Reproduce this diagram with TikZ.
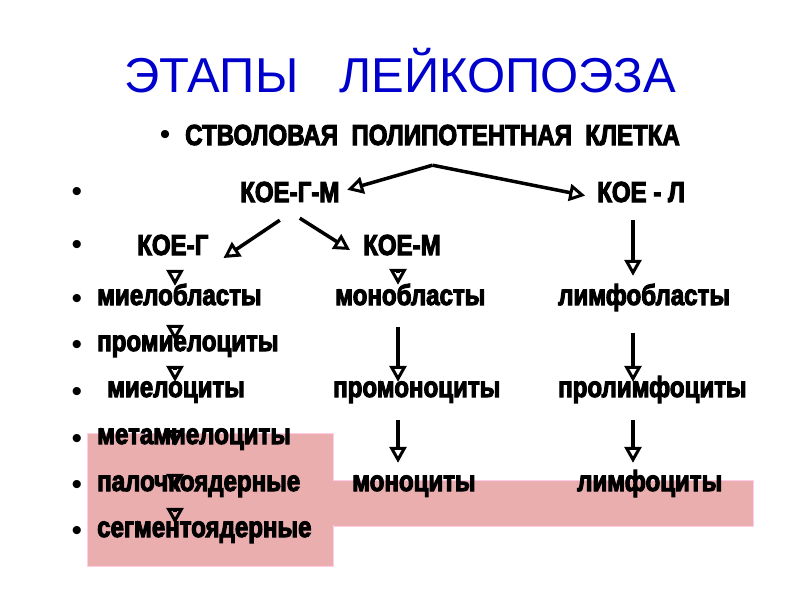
\documentclass[tikz,border=0pt]{standalone}
\usepackage{fontspec}
\setmainfont{Liberation Sans}
\newfontfamily\cellfont[FakeStretch=0.83, BoldFeatures={FakeBold=3.5}]{Liberation Sans}
\usetikzlibrary{arrows.meta, positioning}
\definecolor{titleblue}{RGB}{0,0,204}
\definecolor{boxpink}{RGB}{234,174,174}
\definecolor{boxedge}{RGB}{255,205,230}

\begin{document}
\begin{tikzpicture}[x=1pt, y=-1pt,
        title/.style={font=\fontsize{49}{55}\selectfont, text=titleblue, inner sep=0pt, anchor=base},
        cell/.style={font=\cellfont\bfseries\fontsize{29}{32}\selectfont, inner sep=0pt, anchor=base west, text height=15pt, text depth=0pt},
        kue/.style={cell, text height=20pt},
        dot/.style={font=\fontsize{30}{32}\selectfont, inner sep=0pt},
        arr/.style={line width=3.5pt, -{Triangle[open, length=16pt, width=17pt, line width=3pt]}},
        stage/.style={fill=boxpink, draw=boxedge, line width=0.8pt}
    ]
    \useasboundingbox (0,0) rectangle (800,600);

    % Background boxes
    \fill[stage] (87,433) rectangle (333,566);
    \fill[stage] (333,480) rectangle (753,526);
    \fill[boxpink] (330,481) rectangle (336,525);

    % Title
    \node[title] (title) at (400,92) {ЭТАПЫ~~~ЛЕЙКОПОЭЗА};

    % Nodes
    \node[kue] (stem) at (185,145) {СТВОЛОВАЯ~~ПОЛИПОТЕНТНАЯ~~КЛЕТКА};
    \node[kue] (koegm) at (240,202) {КОЕ-Г-М};
    \node[kue] (koel) at (597,202) {КОЕ - Л};
    \node[kue] (koeg) at (137,255) {КОЕ-Г};
    \node[kue] (koem) at (363,255) {КОЕ-М};

    \node[cell] (myeloblasts) at (97,305) {миелобласты};
    \node[cell] (promyelocytes) at (97,351) {промиелоциты};
    \node[cell] (myelocytes) at (107,397) {миелоциты};
    \node[cell] (metamyelocytes) at (97,444) {метамиелоциты};
    \node[cell] (bandcells) at (97,491) {палочкоядерные};
    \node[cell] (segmented) at (97,537) {сегментоядерные};

    \node[cell] (monoblasts) at (335,305) {монобласты};
    \node[cell] (promonocytes) at (333,397) {промоноциты};
    \node[cell] (monocytes) at (352,491) {моноциты};

    \node[cell] (lymphoblasts) at (558,305) {лимфобласты};
    \node[cell] (prolymphocytes) at (558,397) {пролимфоциты};
    \node[cell] (lymphocytes) at (577,491) {лимфоциты};

    % Bullets
    \node[dot] (b0) at (165,137) {•};
    \foreach \y [count=\i] in {194,247,301,347,394,441,487,533}
        \node[dot] (b\i) at (77,\y) {•};

    % Columns for the vertical paths
    \coordinate (colG) at (175,0);
    \coordinate (colM) at (398,0);
    \coordinate (colL) at (633,0);
    \coordinate (fork) at ([yshift=-20]stem.south);

    % Paths: stem cell
    \draw[arr, shorten >=8pt] (fork) -- (koegm.east);
    \draw[arr, shorten >=12pt] (fork) -- ([yshift=-6]koel.west);

    % Paths: KOE-G-M
    \draw[arr] ([xshift=-10,yshift=-18]koegm.south) -- ([xshift=15,yshift=-13]koeg.east);
    \draw[arr] ([xshift=10,yshift=-16]koegm.south) -- ([xshift=-13,yshift=-5]koem.west);

    % Paths: granulocytes
    \draw[arr, shorten <=17pt, shorten >=4pt] (colG |- koeg.south) -- (colG |- myeloblasts.north);
    \draw[arr, shorten <=23pt, shorten >=-5pt] (colG |- myeloblasts.south) -- (colG |- promyelocytes.north);
    \draw[arr, shorten <=19pt, shorten >=0pt] (colG |- promyelocytes.south) -- (colG |- myelocytes.north);
    \draw[arr, shorten <=33pt, shorten >=-17pt] (colG |- myelocytes.south) -- (colG |- metamyelocytes.north);
    \draw[arr, shorten <=30pt, shorten >=-14pt] (colG |- metamyelocytes.south) -- (colG |- bandcells.north);
    \draw[arr, shorten <=21pt, shorten >=-2pt] (colG |- bandcells.south) -- (colG |- segmented.north);

    % Paths: monocytes
    \draw[arr, shorten <=18pt, shorten >=5pt] (colM |- koem.south) -- (colM |- monoblasts.north);
    \draw[arr, shorten <=22pt, shorten >=0pt] (colM |- monoblasts.south) -- (colM |- promonocytes.north);
    \draw[arr, shorten <=23pt, shorten >=13pt] (colM |- promonocytes.south) -- (colM |- monocytes.north);

    % Paths: lymphocytes
    \draw[arr, shorten <=18pt, shorten >=14pt] (colL |- koel.south) -- (colL |- lymphoblasts.north);
    \draw[arr, shorten <=28pt, shorten >=0pt] (colL |- lymphoblasts.south) -- (colL |- prolymphocytes.north);
    \draw[arr, shorten <=23pt, shorten >=13pt] (colL |- prolymphocytes.south) -- (colL |- lymphocytes.north);

\end{tikzpicture}
\end{document}
